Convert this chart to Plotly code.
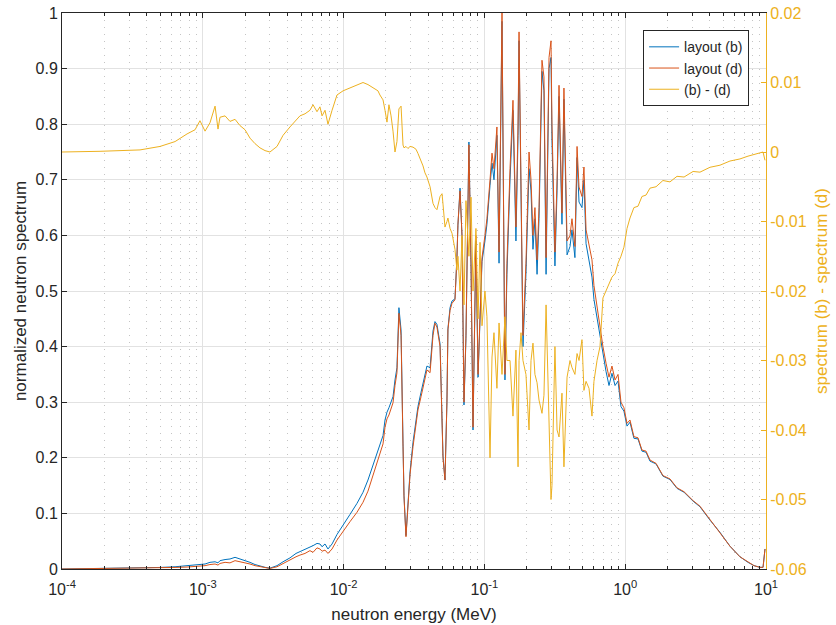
import plotly.graph_objects as go

# log10 of neutron energy (MeV)
log_energy = [
    -4.000, -3.872, -3.730, -3.588, -3.446, -3.304, -3.197, -3.112, -3.055, -3.020,
    -2.984, -2.949, -2.913, -2.892, -2.878, -2.842, -2.807, -2.771, -2.736, -2.700,
    -2.665, -2.629, -2.594, -2.558, -2.523,
    -2.473, -2.430, -2.381, -2.338, -2.310, -2.274, -2.239, -2.217, -2.189, -2.168,
    -2.153, -2.132, -2.111, -2.082, -2.047, -2.004, -1.955, -1.905, -1.862, -1.827,
    -1.791, -1.756, -1.742,
    -1.720, -1.706, -1.692, -1.678, -1.663, -1.649, -1.635, -1.621, -1.607, -1.592,
    -1.578, -1.571, -1.557, -1.543, -1.528, -1.507, -1.486, -1.472, -1.450, -1.436,
    -1.422, -1.408, -1.386, -1.365, -1.351, -1.337, -1.315, -1.301, -1.294, -1.280,
    -1.266, -1.259, -1.244, -1.230,
    -1.209, -1.195, -1.188, -1.173, -1.159, -1.145, -1.131, -1.110, -1.095, -1.081,
    -1.060, -1.045, -1.031, -1.017, -0.996, -0.982, -0.960, -0.946, -0.932, -0.911,
    -0.896, -0.875, -0.854, -0.840, -0.818, -0.797, -0.776, -0.761, -0.754, -0.740,
    -0.726, -0.705, -0.683, -0.669, -0.655, -0.641, -0.626, -0.612, -0.591, -0.577,
    -0.562, -0.541, -0.527, -0.520, -0.499, -0.484, -0.470, -0.449, -0.435, -0.413,
    -0.392, -0.378, -0.357, -0.342, -0.328, -0.307, -0.293, -0.278, -0.257, -0.236,
    -0.222, -0.200, -0.179, -0.158, -0.136, -0.115, -0.094, -0.072, -0.051, -0.030,
    -0.009, 0.013, 0.034, 0.062, 0.091, 0.119, 0.148, 0.176, 0.219, 0.268,
    0.318, 0.368, 0.418, 0.482, 0.531, 0.602, 0.673, 0.744, 0.815, 0.872,
    0.915, 0.957, 0.979, 0.993,
]

# layout (d) spectrum
spectrum_d = [
    0.000, 0.0003, 0.0005, 0.0008, 0.0012, 0.0020, 0.0028, 0.0035, 0.0045, 0.0050,
    0.0060, 0.0080, 0.0090, 0.0070, 0.0100, 0.0120, 0.0110, 0.0150, 0.0130, 0.0120,
    0.0090, 0.0060, 0.0040, 0.0020, 0.0010,
    0.004, 0.010, 0.016, 0.022, 0.025, 0.028, 0.033, 0.030, 0.038, 0.036,
    0.032, 0.034, 0.028, 0.036, 0.052, 0.068, 0.085, 0.102, 0.120, 0.140,
    0.170, 0.195, 0.209,
    0.225, 0.255, 0.270, 0.277, 0.290, 0.299, 0.330, 0.353, 0.460, 0.420,
    0.220, 0.130, 0.058, 0.110, 0.170, 0.220, 0.260, 0.286, 0.310, 0.327,
    0.340, 0.358, 0.353, 0.420, 0.442, 0.435, 0.400, 0.250, 0.200, 0.160,
    0.300, 0.430, 0.465, 0.478,
    0.484, 0.560, 0.620, 0.680, 0.600, 0.300, 0.420, 0.763, 0.550, 0.255,
    0.600, 0.350, 0.466, 0.560, 0.600, 0.630, 0.700, 0.748, 0.720, 0.795,
    0.570, 1.000, 0.350, 0.550, 0.720, 0.843, 0.615, 0.800, 0.966, 0.700,
    0.420, 0.550, 0.750, 0.700, 0.600, 0.650, 0.556, 0.650, 0.915, 0.885,
    0.560, 0.920, 0.950, 0.800, 0.570, 0.700, 0.870, 0.640, 0.865, 0.590,
    0.600, 0.630, 0.580, 0.760, 0.687, 0.670, 0.723, 0.610, 0.580, 0.556,
    0.510, 0.470, 0.430, 0.400, 0.370, 0.345, 0.365, 0.340, 0.350, 0.300,
    0.290, 0.262, 0.268, 0.238, 0.236, 0.214, 0.212, 0.196, 0.190, 0.168,
    0.162, 0.146, 0.139, 0.123, 0.113, 0.089, 0.066, 0.041, 0.022, 0.012,
    0.006, 0.003, 0.003, 0.036,
]

# layout (b) spectrum
spectrum_b = [
    0.000, 0.0004, 0.0006, 0.0010, 0.0016, 0.0028, 0.0040, 0.0060, 0.0070, 0.0090,
    0.0090, 0.0120, 0.0130, 0.0110, 0.0150, 0.0170, 0.0180, 0.0210, 0.0180, 0.0160,
    0.0120, 0.0080, 0.0050, 0.0030, 0.0015,
    0.006, 0.013, 0.020, 0.028, 0.031, 0.035, 0.040, 0.042, 0.046, 0.045,
    0.040, 0.045, 0.036, 0.045, 0.062, 0.080, 0.098, 0.118, 0.138, 0.160,
    0.188, 0.212, 0.225,
    0.240, 0.268, 0.282, 0.290, 0.300, 0.310, 0.340, 0.362, 0.470, 0.430,
    0.225, 0.132, 0.060, 0.112, 0.175, 0.228, 0.268, 0.292, 0.318, 0.334,
    0.350, 0.365, 0.362, 0.428, 0.445, 0.440, 0.405, 0.252, 0.203, 0.160,
    0.302, 0.432, 0.470, 0.482,
    0.486, 0.560, 0.618, 0.685, 0.598, 0.295, 0.415, 0.768, 0.545, 0.250,
    0.590, 0.345, 0.460, 0.553, 0.590, 0.620, 0.690, 0.730, 0.700, 0.780,
    0.550, 0.985, 0.340, 0.530, 0.700, 0.825, 0.590, 0.780, 0.950, 0.685,
    0.400, 0.530, 0.720, 0.680, 0.575, 0.630, 0.530, 0.630, 0.895, 0.860,
    0.530, 0.900, 0.920, 0.770, 0.545, 0.680, 0.850, 0.620, 0.845, 0.565,
    0.580, 0.610, 0.560, 0.740, 0.660, 0.650, 0.700, 0.585, 0.555, 0.525,
    0.485, 0.450, 0.415, 0.385, 0.355, 0.330, 0.352, 0.330, 0.338, 0.292,
    0.284, 0.257, 0.264, 0.235, 0.234, 0.212, 0.210, 0.194, 0.189, 0.167,
    0.161, 0.145, 0.138, 0.122, 0.112, 0.088, 0.066, 0.041, 0.022, 0.012,
    0.006, 0.003, 0.003, 0.036,
]

# spectrum (b) - spectrum (d)
diff_bd = [
    0.0000, 0.0000, 0.0001, 0.0002, 0.0003, 0.0008, 0.0015, 0.0026, 0.0032, 0.0045,
    0.0030, 0.0042, 0.0066, 0.0033, 0.0050, 0.0052, 0.0044, 0.0047, 0.0038, 0.0032,
    0.0020, 0.0012, 0.0006, 0.0002, 0.0000,
    0.0008, 0.0024, 0.0036, 0.0046, 0.0052, 0.0055, 0.0060, 0.0068, 0.0058, 0.0065,
    0.0052, 0.0060, 0.0040, 0.0060, 0.0082, 0.0088, 0.0092, 0.0096, 0.0100, 0.0097,
    0.0093, 0.0088, 0.0082,
    0.0075, 0.0060, 0.0043, 0.0068, 0.0052, 0.0030, 0.0000, 0.0015, 0.0062, 0.0066,
    0.0010, 0.0006, 0.0008, 0.0005, 0.0008, 0.0007, 0.0004, -0.0002, -0.0012, -0.0020,
    -0.0030, -0.0036, -0.0050, -0.0074, -0.0080, -0.0083, -0.0064, -0.0060, -0.0075, -0.0108,
    -0.0100, -0.0095, -0.0110, -0.0117,
    -0.0140, -0.0170, -0.0150, -0.0200, -0.0120, -0.0220, -0.0070, -0.0150, -0.0065, -0.0200,
    -0.0110, -0.0240, -0.0130, -0.0250, -0.0200, -0.0237, -0.0440, -0.0295, -0.0260, -0.0340,
    -0.0246, -0.0320, -0.0237, -0.0300, -0.0300, -0.0380, -0.0285, -0.0453, -0.0300, -0.0260,
    -0.0300, -0.0320, -0.0400, -0.0300, -0.0275, -0.0320, -0.0332, -0.0357, -0.0376, -0.0350,
    -0.0220, -0.0400, -0.0500, -0.0480, -0.0280, -0.0400, -0.0410, -0.0347, -0.0453, -0.0324,
    -0.0300, -0.0310, -0.0320, -0.0290, -0.0300, -0.0270, -0.0343, -0.0330, -0.0340, -0.0380,
    -0.0330, -0.0300, -0.0280, -0.0210, -0.0200, -0.0190, -0.0180, -0.0175, -0.0160, -0.0150,
    -0.0137, -0.0110, -0.0095, -0.0080, -0.0078, -0.0064, -0.0062, -0.0052, -0.0050, -0.0041,
    -0.0043, -0.0035, -0.0036, -0.0028, -0.0029, -0.0022, -0.0019, -0.0013, -0.0010, -0.0006,
    -0.0004, -0.0001, 0.0000, -0.0012,
]

x_tick_vals = [1e-4, 1e-3, 1e-2, 1e-1, 1e0, 1e1]
x_tick_text = ["10<sup>-4</sup>", "10<sup>-3</sup>", "10<sup>-2</sup>",
               "10<sup>-1</sup>", "10<sup>0</sup>", "10<sup>1</sup>"]
y2_tick_vals = [-0.06, -0.05, -0.04, -0.03, -0.02, -0.01, 0, 0.01, 0.02]
y2_tick_text = ["-0.06", "-0.05", "-0.04", "-0.03", "-0.02", "-0.01", "0", "0.01", "0.02"]

energy = [10 ** v for v in log_energy]

BLUE = "#0072BD"
ORANGE = "#D95319"
YELLOW = "#EDB120"
DARK = "#262626"
FONT = "Liberation Sans, Arial, sans-serif"

fig = go.Figure()
fig.add_trace(go.Scatter(x=energy, y=spectrum_b, mode="lines", name="layout (b)",
                         line=dict(color=BLUE, width=1)))
fig.add_trace(go.Scatter(x=energy, y=spectrum_d, mode="lines", name="layout (d)",
                         line=dict(color=ORANGE, width=1)))
fig.add_trace(go.Scatter(x=energy, y=diff_bd, mode="lines", name="(b) - (d)",
                         line=dict(color=YELLOW, width=1), yaxis="y2"))

fig.update_layout(
    width=836, height=625,
    margin=dict(l=62, r=70, t=13, b=56, autoexpand=False),
    paper_bgcolor="white", plot_bgcolor="white",
    font=dict(family=FONT, size=16, color=DARK),
    showlegend=True,
    legend=dict(x=0.976, y=0.969, xanchor="right", yanchor="top",
                bgcolor="white", bordercolor=DARK, borderwidth=1,
                font=dict(size=14, color=DARK), tracegroupgap=0),
    xaxis=dict(
        type="log", range=[-4, 1], automargin=False,
        tickmode="array", tickvals=x_tick_vals, ticktext=x_tick_text,
        ticks="inside", ticklen=5, tickcolor=DARK,
        showline=True, linecolor=DARK, linewidth=1, mirror="ticks",
        showgrid=True, gridcolor="#e2e2e2", gridwidth=1,
        minor=dict(dtick="D1", ticks="inside", ticklen=3, tickcolor=DARK,
                   showgrid=True, gridcolor="#c4c4c4", griddash="1px,6px", gridwidth=1),
        zeroline=False,
        ticklabelstandoff=6,
        tickfont=dict(size=16, color=DARK),
        title=dict(text="neutron energy (MeV)", font=dict(size=17, color=DARK), standoff=10),
    ),
    yaxis=dict(
        range=[0, 1], dtick=0.1, tick0=0, automargin=False,
        ticks="inside", ticklen=5, tickcolor=DARK,
        showline=True, linecolor=DARK, linewidth=1,
        showgrid=True, gridcolor="#e2e2e2", gridwidth=1,
        zeroline=False,
        tickfont=dict(size=16, color=DARK),
        title=dict(text="normalized neutron spectrum", font=dict(size=17, color=DARK), standoff=4),
    ),
    yaxis2=dict(
        overlaying="y", side="right", range=[-0.06, 0.02], automargin=False,
        tickmode="array", tickvals=y2_tick_vals, ticktext=y2_tick_text,
        ticks="inside", ticklen=5, tickcolor=YELLOW,
        showline=True, linecolor=YELLOW, linewidth=1,
        showgrid=False, zeroline=False,
        tickfont=dict(size=16, color=YELLOW),
        title=dict(text="spectrum (b) - spectrum (d)", font=dict(size=17, color=YELLOW), standoff=9),
    ),
)

fig.write_html("out.html")
